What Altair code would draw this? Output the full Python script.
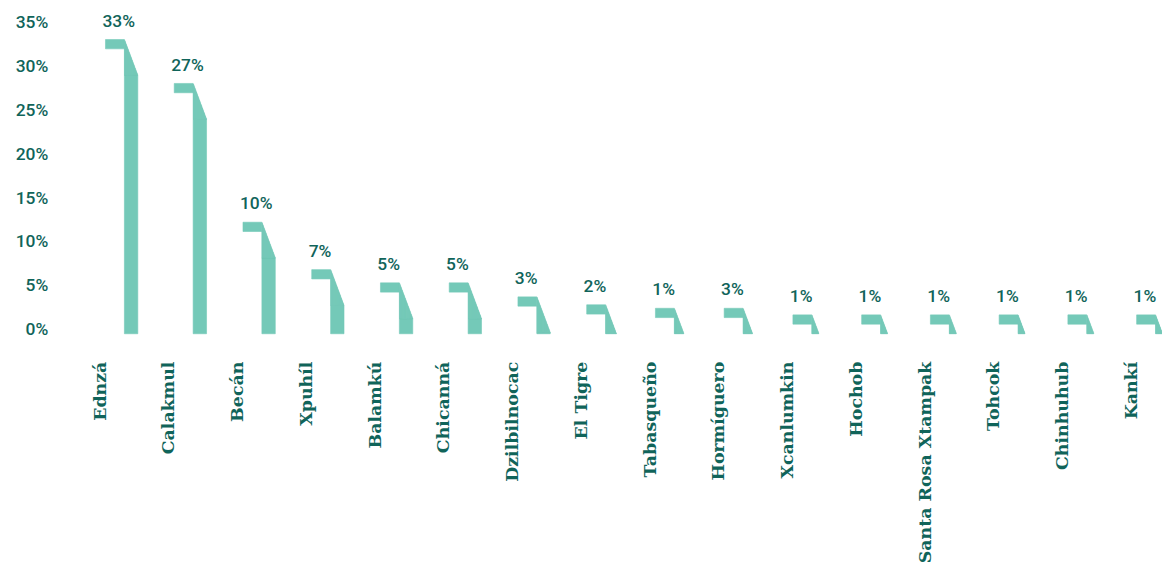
import altair as alt
import pandas as pd

# ---- data ----
sites = ["Ednzá", "Calakmul", "Becán", "Xpuhíl", "Balamkú", "Chicanná",
         "Dzilbilnocac", "El Tigre", "Tabasqueño", "Hormíguero", "Xcanlumkin",
         "Hochob", "Santa Rosa Xtampak", "Tohcok", "Chinhuhub", "Kankí"]
# printed percentages
pct_labels = [33, 27, 10, 7, 5, 5, 3, 2, 1, 3, 1, 1, 1, 1, 1, 1]
# drawn heights of each flag shape (top of tab, in %)
heights = [33.5, 28.5, 12.7, 7.3, 5.8, 5.8, 4.2, 3.3, 2.9, 2.9,
           2.15, 2.15, 2.15, 2.15, 2.15, 2.15]
y_ticks = [0, 5, 10, 15, 20, 25, 30, 35]

# ---- shape geometry (in data units) ----
TAB_W = 0.275      # width of the horizontal tab (fraction of category step)
BAR_W = 0.195      # width of the vertical bar
TAB_H = 1.06       # thickness of the tab (in %)
SLANT = 4.08       # vertical drop of the slanted edge (in %)
N_SL = 27          # slices used to build the slanted top of the bar

tab_rows, bar_rows, sl_rows = [], [], []
for i, (s, h) in enumerate(zip(sites, heights)):
    tab_rows.append({"site": s, "x0": i, "x1": i + TAB_W, "y0": h - TAB_H, "y1": h})
    if h - SLANT > 0:
        bar_rows.append({"site": s, "x0": i + TAB_W, "x1": i + TAB_W + BAR_W,
                         "y0": 0.0, "y1": h - SLANT})
    for j in range(N_SL):
        top = h - SLANT * (j + 0.5) / N_SL
        if top <= 0:
            break
        sl_rows.append({"site": s,
                        "x0": i + TAB_W + BAR_W * j / N_SL,
                        "x1": i + TAB_W + BAR_W * (j + 1) / N_SL,
                        "y0": max(h - SLANT, 0.0), "y1": top})
tab_df = pd.DataFrame(tab_rows)
bar_df = pd.DataFrame(bar_rows)
sl_df = pd.DataFrame(sl_rows)

lab_df = pd.DataFrame({
    "site": sites,
    "pos": list(range(len(sites))),
    "h": heights,
    "txt": [f"{v}%" for v in pct_labels],
})
lab_df["xv"] = lab_df["pos"] - 0.045
lab_df["xl"] = lab_df["pos"] - 0.07

BAR = "#74c9b8"
TXT = "#10645a"
NUM_FONT = "Roboto"
SERIF = "DejaVu Serif"

xs = alt.Scale(domain=[-0.7236, 15.369], nice=False, zero=False)
ys = alt.Scale(domain=[0, 35], nice=False)

y_axis = alt.Axis(
    values=y_ticks, labelExpr="datum.value + '%'", title="",
    domain=False, ticks=False, grid=False, labelPadding=8,
    labelFont=NUM_FONT, labelFontSize=17.5, labelFontWeight=500,
    labelColor=TXT, labelOffset=-4)


def rect_layer(df):
    return alt.Chart(df).mark_rect(
        color=BAR, stroke=BAR, strokeWidth=0.6, opacity=1
    ).encode(
        x=alt.X("x0:Q", scale=xs, axis=None),
        x2="x1:Q",
        y=alt.Y("y1:Q", scale=ys, axis=y_axis),
        y2="y0:Q",
    )


tabs = rect_layer(tab_df)
bars = rect_layer(bar_df)
slices = rect_layer(sl_df)

values = alt.Chart(lab_df).mark_text(
    font=NUM_FONT, fontSize=17.5, fontWeight=500, color=TXT,
    baseline="middle", align="left", dy=-18,
).encode(
    x=alt.X("xv:Q", scale=xs),
    y=alt.Y("h:Q", scale=ys),
    text="txt:N",
)

names = alt.Chart(lab_df).mark_text(
    font=SERIF, fontSize=17.5, fontWeight="bold", color=TXT,
    angle=270, align="right", baseline="middle",
).encode(
    x=alt.X("xl:Q", scale=xs),
    y=alt.value(337),
    text="site:N",
)

chart = alt.layer(bars, slices, tabs, values, names).properties(
    width=1112, height=309,
    autosize=alt.AutoSizeParams(type="none"),
    padding={"left": 48, "top": 17, "right": 0, "bottom": 232},
    background="white",
).configure_view(strokeWidth=0)

chart.save("out.html", embed_options={"renderer": "svg", "actions": False})
